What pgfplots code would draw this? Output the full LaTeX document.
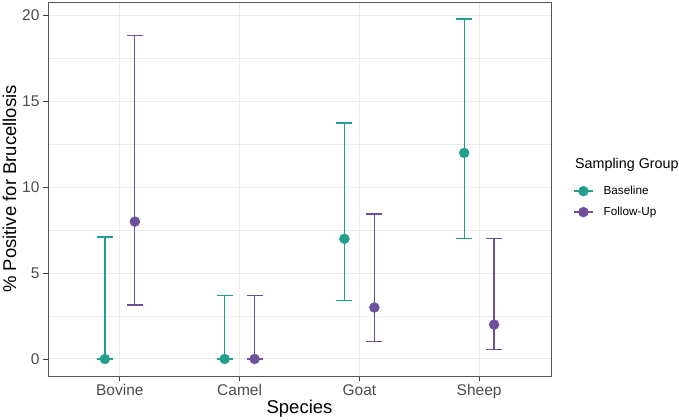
\documentclass[border=0pt]{standalone}
\usepackage{fontspec}
\setmainfont{Liberation Sans}
\usepackage{pgfplots}
\usepackage{pgfplotstable}
\pgfplotsset{compat=1.18}
\definecolor{cBase}{RGB}{35,158,140}
\definecolor{cFol}{RGB}{108,80,155}
\definecolor{gridc}{RGB}{235,235,235}
\pgfplotstableread{
x y ep em
0.875 0 7.1 0
1.875 0 3.7 0
2.875 7 6.75 3.58
3.875 12 7.8 5.0
}\baseline
\pgfplotstableread{
x y ep em
1.125 8 10.85 4.85
2.125 0 3.7 0
3.125 3 5.45 2.0
4.125 2 5.0 1.45
}\followup
\begin{document}
\begin{tikzpicture}
\useasboundingbox (-48bp,-44bp) rectangle (631bp,376bp);
\begin{axis}[
  at={(0,0)}, anchor=south west,
  scale only axis, width=503bp, height=374bp,
  xmin=0.4, xmax=4.6, ymin=-0.99, ymax=20.79,
  xtick={1,2,3,4}, xticklabels={Bovine,Camel,Goat,Sheep},
  ytick={0,5,10,15,20}, minor ytick={2.5,7.5,12.5,17.5},
  grid=both,
  major grid style={color=gridc, line width=1bp},
  minor grid style={color=gridc, line width=0.5bp},
  axis line style={color=black!65, line width=0.8bp},
  tick style={color=black!75, line width=0.8bp},
  tick align=outside, major tick length=5bp, minor tick length=0pt,
  xtick pos=bottom, ytick pos=left,
  ticklabel style={font=\fontsize{15.5bp}{18bp}\selectfont, text=black!70},
  /pgf/number format/assume math mode=true,
  xlabel={Species}, ylabel={\% Positive for Brucellosis},
  label style={font=\fontsize{18.5bp}{22bp}\selectfont},
  xlabel style={at={(axis description cs:0.5,0)}, anchor=base, yshift=-37bp},
  ylabel style={at={(axis description cs:-0.0636,0.5)}, anchor=base},
  clip=false,
  legend style={at={(axis description cs:1,0.5)}, anchor=north west, xshift=19bp, yshift=7bp,
    draw=none, fill=none, font=\fontsize{11.7bp}{14bp}\selectfont, row sep=7bp,
    /tikz/every odd column/.append style={column sep=8bp}},
  legend cell align=left,
]
\addplot[cBase, only marks, mark=*, mark size=5bp,
  legend image code/.code={\draw[cBase, line width=1.5bp] (0bp,0bp) -- (19bp,0bp); \fill[cBase] (9.5bp,0bp) circle (5bp);},
  error bars/.cd, y dir=both, y explicit,
  error bar style={line width=1.3bp},
  error mark options={rotate=90, line width=1.3bp, mark size=8bp}]
  table[x=x, y=y, y error plus=ep, y error minus=em] {\baseline};
\addlegendentry{Baseline}
\addplot[cFol, only marks, mark=*, mark size=5bp,
  legend image code/.code={\draw[cFol, line width=1.5bp] (0bp,0bp) -- (19bp,0bp); \fill[cFol] (9.5bp,0bp) circle (5bp);},
  error bars/.cd, y dir=both, y explicit,
  error bar style={line width=1.3bp},
  error mark options={rotate=90, line width=1.3bp, mark size=8bp}]
  table[x=x, y=y, y error plus=ep, y error minus=em] {\followup};
\addlegendentry{Follow-Up}
\node[anchor=base west, font=\fontsize{14.3bp}{17bp}\selectfont, inner sep=0pt] at (rel axis cs:1.0477,0.556) {Sampling Group};
\end{axis}
\end{tikzpicture}
\end{document}
